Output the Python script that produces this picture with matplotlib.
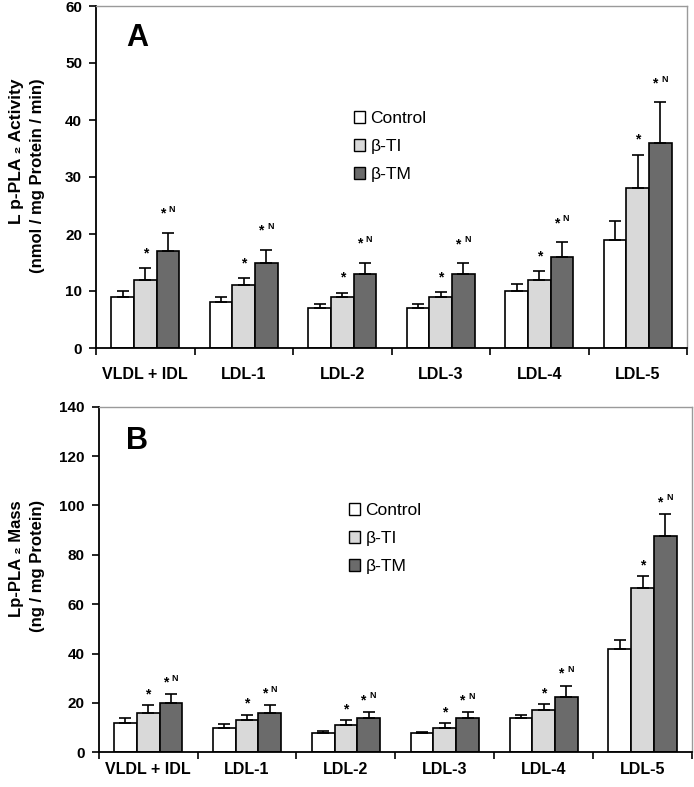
import matplotlib
matplotlib.use("Agg")
import matplotlib.pyplot as plt
from matplotlib.patches import Patch
import numpy as np

plt.rcParams['font.family'] = ['Liberation Sans', 'DejaVu Sans']

categories = ["VLDL + IDL", "LDL-1", "LDL-2", "LDL-3", "LDL-4", "LDL-5"]
series = ["Control", "β-TI", "β-TM"]

# Panel A: Lp-PLA2 activity
act_control = [9, 8, 7, 7, 10, 19]
act_ti = [12, 11, 9, 9, 12, 28]
act_tm = [17, 15, 13, 13, 16, 36]
act_control_err = [1.0, 1.0, 0.7, 0.7, 1.2, 3.3]
act_ti_err = [2.0, 1.2, 0.7, 0.8, 1.5, 5.9]
act_tm_err = [3.2, 2.2, 2.0, 1.9, 2.6, 7.1]

# Panel B: Lp-PLA2 mass
mass_control = [12, 10, 8, 8, 14, 42]
mass_ti = [16, 13, 11, 10, 17, 66.5]
mass_tm = [20, 16, 14, 14, 22.5, 87.5]
mass_control_err = [2.0, 1.5, 0.5, 0.4, 1.2, 3.4]
mass_ti_err = [3.0, 2.3, 2.0, 1.7, 2.4, 4.8]
mass_tm_err = [3.5, 3.0, 2.3, 2.2, 4.5, 9.0]

colors = ["#ffffff", "#d9d9d9", "#6b6b6b"]

W, H = 694, 787
fig = plt.figure(figsize=(W / 100, H / 100), dpi=100)


def px_axes(left, top, right, bottom):
    return fig.add_axes([left / W, 1 - bottom / H, (right - left) / W, (bottom - top) / H])


def panel(ax, vals, errs, ymax, ystep, xlabpad, star_off):
    x = np.arange(len(categories))
    bw = 0.23
    offs = [-bw, 0, bw]
    for i in range(3):
        ax.bar(x + offs[i], vals[i], width=bw, color=colors[i], edgecolor="black",
               linewidth=1.2, zorder=2)
        ax.errorbar(x + offs[i], vals[i], yerr=[np.zeros(len(x)), errs[i]], fmt="none",
                    ecolor="black", elinewidth=1.2, capsize=4, capthick=1.2, zorder=3)
    # significance marks
    for j in range(len(x)):
        top_ti = vals[1][j] + errs[1][j]
        ax.annotate("*", (x[j] + offs[1], top_ti), xytext=(0, star_off[0] * 0.72),
                    textcoords="offset points", ha="center", va="center",
                    fontsize=10, fontweight="bold")
        top_tm = vals[2][j] + errs[2][j]
        ax.annotate("*", (x[j] + offs[2], top_tm), xytext=(-4, star_off[1] * 0.72),
                    textcoords="offset points", ha="center", va="center",
                    fontsize=10, fontweight="bold")
        ax.annotate("N", (x[j] + offs[2], top_tm), xytext=(3, star_off[1] * 0.72 + 3),
                    textcoords="offset points", ha="center", va="center",
                    fontsize=6.5, fontweight="heavy")
    ax.set_xlim(-0.5, len(x) - 0.5)
    ax.set_ylim(0, ymax)
    ax.set_yticks(np.arange(0, ymax + 1, ystep))
    ax.set_xticks(x)
    ax.set_xticklabels(categories)
    ax.set_xticks(np.arange(-0.5, len(x), 1.0), minor=True)
    ax.tick_params(axis="x", which="major", length=0, pad=xlabpad, labelsize=11.5)
    ax.tick_params(axis="x", which="minor", length=5, width=1.2, direction="out")
    ax.tick_params(axis="y", length=5, width=1.2, direction="out", pad=5, labelsize=11)
    for lab in ax.get_xticklabels() + ax.get_yticklabels():
        lab.set_fontweight("bold")
    for s in ["top", "right"]:
        ax.spines[s].set_color("#9a9a9a")
        ax.spines[s].set_linewidth(1.0)
    for s in ["left", "bottom"]:
        ax.spines[s].set_color("black")
        ax.spines[s].set_linewidth(1.3)


axA = px_axes(96, 6, 687, 348)
panel(axA, [act_control, act_ti, act_tm], [act_control_err, act_ti_err, act_tm_err],
      60, 10, 14, (15, 19))
axB = px_axes(98.7, 406.7, 692, 752.3)
panel(axB, [mass_control, mass_ti, mass_tm], [mass_control_err, mass_ti_err, mass_tm_err],
      140, 20, 7, (11, 12))

# panel letters
fig.text(137 / W, 1 - 38 / H, "A", fontsize=22, fontweight="bold", ha="center", va="center")
fig.text(137 / W, 1 - 441 / H, "B", fontsize=22, fontweight="bold", ha="center", va="center")

# y labels
fig.text(17 / W, 1 - 78 / H, "L p-PLA \u2082 Activity", rotation=90, ha="center", va="top",
         fontsize=12.5, fontweight="bold")
fig.text(38 / W, 1 - 78 / H, "(nmol / mg Protein / min)", rotation=90, ha="center", va="top",
         fontsize=12, fontweight="bold")
fig.text(17 / W, 1 - 500 / H, "Lp-PLA \u2082 Mass", rotation=90, ha="center", va="top",
         fontsize=12, fontweight="bold")
fig.text(38 / W, 1 - 500 / H, "(ng / mg Protein)", rotation=90, ha="center", va="top",
         fontsize=12, fontweight="bold")

# legends
handles = [Patch(facecolor=c, edgecolor="black", linewidth=1.0) for c in colors]
for (lx, ly) in [(354, 111), (349, 503)]:
    fig.legend(handles, series, loc="upper left", bbox_to_anchor=(lx / W, 1 - ly / H),
               frameon=False, fontsize=12.5, handlelength=0.65, handleheight=0.65,
               handletextpad=0.3, labelspacing=0.75, borderpad=0, borderaxespad=0)

fig.savefig("out.png", dpi=100)
